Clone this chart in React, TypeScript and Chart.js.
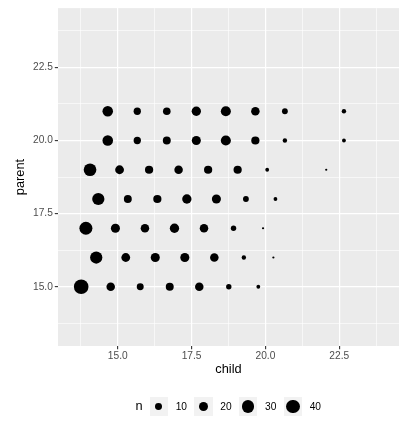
import React, { useEffect, useRef } from "react";
import { Chart, registerables } from "chart.js";

Chart.register(...registerables);

// ---- data ----
const parentRows = [21, 20, 19, 18, 17, 16, 15];

const child21 = [14.66, 15.66, 16.66, 17.66, 18.66, 19.66, 20.66, 22.66];
const count21 = [23, 11, 12, 18, 21, 15, 7, 4];

const child20 = [14.66, 15.66, 16.66, 17.66, 18.66, 19.66, 20.66, 22.66];
const count20 = [23, 11, 13, 17, 21, 14, 4, 3];

const child19 = [14.06, 15.06, 16.06, 17.06, 18.06, 19.06, 20.06, 22.06];
const count19 = [33, 16, 14, 15, 14, 14, 3, 1];

const child18 = [14.34, 15.34, 16.34, 17.34, 18.34, 19.34, 20.34];
const count18 = [31, 13, 14, 18, 17, 7, 3];

const child17 = [13.92, 14.92, 15.92, 16.92, 17.92, 18.92, 19.92];
const count17 = [35, 17, 15, 18, 15, 6, 1];

const child16 = [14.27, 15.27, 16.27, 17.27, 18.27, 19.27, 20.27];
const count16 = [31, 16, 17, 17, 15, 4, 1];

const child15 = [13.76, 14.76, 15.76, 16.76, 17.76, 18.76, 19.76];
const count15 = [44, 15, 10, 13, 15, 6, 3];

const childByRow = [child21, child20, child19, child18, child17, child16, child15];
const countByRow = [count21, count20, count19, count18, count17, count16, count15];

const axisLimits = [13.5, 24];
const majorTicks = [15, 17.5, 20, 22.5];
const minorTicks = [13.75, 16.25, 18.75, 21.25, 23.75];
const legendBreaks = [10, 20, 30, 40];

// ---- styling helpers ----
const FONT = "'Liberation Sans', Arial, sans-serif";
const EXPAND = 0.05;
const span = axisLimits[1] - axisLimits[0];
const axisMin = axisLimits[0] - EXPAND * span;
const axisMax = axisLimits[1] + EXPAND * span;
const allTicks = [...minorTicks, ...majorTicks].sort((a, b) => a - b);
const isMajor = (v: number) => majorTicks.some((m) => Math.abs(m - v) < 1e-9);
const radiusFor = (n: number) => 1.1 * Math.sqrt(n);

function makeAxis(title: string, isX: boolean): any {
  return {
    type: "linear",
    min: axisMin,
    max: axisMax,
    afterBuildTicks: (s: any) => {
      s.ticks = allTicks.map((v) => ({ value: v }));
    },
    afterFit: (s: any) => {
      if (isX) s.height = 31.3;
      else s.width = 58;
    },
    grid: {
      color: "#ffffff",
      lineWidth: (c: any) => (c.tick && isMajor(c.tick.value) ? 1.2 : 0.6),
      drawTicks: true,
      tickLength: 3.2,
      tickColor: (c: any) => (c.tick && isMajor(c.tick.value) ? "#333333" : "rgba(0,0,0,0)"),
      tickWidth: 1.1,
    },
    border: { display: false },
    ticks: {
      autoSkip: false,
      maxRotation: 0,
      minRotation: 0,
      padding: isX ? 1 : 2,
      color: "#4d4d4d",
      font: { family: FONT, size: 10.2 },
      callback: (v: any) => (isMajor(Number(v)) ? Number(v).toFixed(1) : ""),
    },
    title: {
      display: true,
      text: title,
      color: "#000000",
      font: { family: FONT, size: 12.8 },
      padding: isX ? { top: 0, bottom: 0 } : { top: 13, bottom: 0 },
    },
  };
}

const panelBg = {
  id: "panelBg",
  beforeDraw(chart: any) {
    const { ctx, chartArea } = chart;
    if (!chartArea) return;
    ctx.save();
    ctx.fillStyle = "#ebebeb";
    ctx.fillRect(chartArea.left, chartArea.top, chartArea.right - chartArea.left, chartArea.bottom - chartArea.top);
    ctx.restore();
  },
};

export default function App() {
  const ref = useRef<HTMLCanvasElement | null>(null);

  useEffect(() => {
    if (!ref.current) return;
    const points: any[] = [];
    parentRows.forEach((p, i) => {
      childByRow[i].forEach((c, j) => {
        points.push({ x: c, y: p, n: countByRow[i][j] });
      });
    });
    const chart = new Chart(ref.current, {
      type: "scatter",
      data: {
        datasets: [
          {
            label: "n",
            data: points,
            backgroundColor: "#000000",
            borderWidth: 0,
            pointRadius: (c: any) => radiusFor(c.raw ? c.raw.n : 1),
            pointHoverRadius: (c: any) => radiusFor(c.raw ? c.raw.n : 1),
          },
        ],
      },
      options: {
        responsive: false,
        animation: false,
        devicePixelRatio: 1,
        events: [],
        layout: { padding: { left: 0, right: 16, top: 5, bottom: 51.7 } },
        plugins: { legend: { display: false }, tooltip: { enabled: false } },
        scales: {
          x: makeAxis("child", true),
          y: makeAxis("parent", false),
        },
      } as any,
      plugins: [panelBg],
    });
    return () => chart.destroy();
  }, []);

  const keyLeft = (i: number) => 149.7 + i * 44.67;
  const keySize = 18.4;
  const keyTop = 397.3;

  return (
    <div
      style={{
        position: "fixed",
        left: 0,
        top: 0,
        width: 415,
        height: 429,
        background: "#ffffff",
        fontFamily: FONT,
        overflow: "hidden",
      }}
    >
      <canvas ref={ref} width={415} height={429} style={{ position: "absolute", left: 0, top: 0 }} />
      <div
        style={{
          position: "absolute",
          left: 135.5,
          top: 397.6,
          fontSize: 12.8,
          lineHeight: "16px",
          color: "#000",
        }}
      >
        n
      </div>
      {legendBreaks.map((b, i) => {
        const r = radiusFor(b);
        return (
          <React.Fragment key={b}>
            <div
              style={{
                position: "absolute",
                left: keyLeft(i),
                top: keyTop,
                width: keySize,
                height: keySize,
                background: "#f2f2f2",
              }}
            >
              <div
                style={{
                  position: "absolute",
                  left: keySize / 2 - r,
                  top: keySize / 2 - r,
                  width: 2 * r,
                  height: 2 * r,
                  borderRadius: "50%",
                  background: "#000",
                }}
              />
            </div>
            <div
              style={{
                position: "absolute",
                left: keyLeft(i) + 26,
                top: 400.5,
                fontSize: 10.2,
                lineHeight: "12px",
                color: "#000",
              }}
            >
              {b}
            </div>
          </React.Fragment>
        );
      })}
    </div>
  );
}
